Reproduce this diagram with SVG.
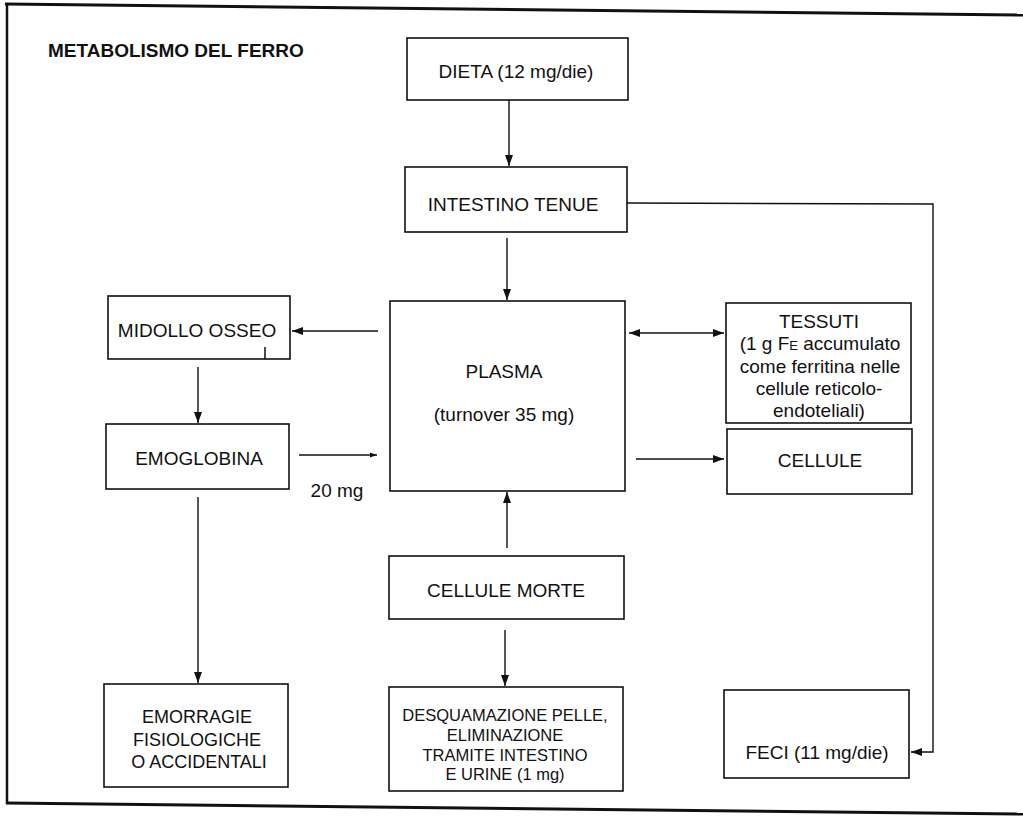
<svg xmlns="http://www.w3.org/2000/svg" width="1023" height="817" viewBox="0 0 1023 817">
<defs>
<marker id="ah" markerUnits="userSpaceOnUse" markerWidth="12" markerHeight="10" refX="11" refY="5" orient="auto-start-reverse">
<path d="M0,1 L11,5 L0,9 Z" fill="#111"/>
</marker>
<marker id="ahs" markerUnits="userSpaceOnUse" markerWidth="8" markerHeight="6" refX="7" refY="3" orient="auto">
<path d="M0,0.5 L7,3 L0,5.5 Z" fill="#111"/>
</marker>
</defs>
<style>
.box{fill:#fff;stroke:#111;stroke-width:1.6}
.t{font-family:"Liberation Sans",Arial,sans-serif;font-size:19px;fill:#111;text-anchor:middle}
.s{font-size:16.5px}
.m{font-size:18px}
.title{font-family:"Liberation Sans",Arial,sans-serif;font-size:19px;font-weight:bold;fill:#111}
.c{fill:none;stroke:#111;stroke-width:1.4}
.frame{fill:none;stroke:#111}
</style>
<rect width="1023" height="817" fill="#fff"/>
<g id="frame">
<line class="frame" x1="5" y1="4" x2="1023" y2="15" stroke-width="3"/>
<line class="frame" x1="7" y1="4" x2="7" y2="804" stroke-width="2.5"/>
<line class="frame" x1="6" y1="803" x2="1023" y2="814" stroke-width="3"/>
</g>
<text class="title" x="48" y="57">METABOLISMO DEL FERRO</text>
<g id="dieta"><rect class="box" x="407" y="38" width="221" height="62"/><text class="t" x="516" y="78">DIETA (12 mg/die)</text></g>
<g id="intestino"><rect class="box" x="405" y="167" width="222" height="65"/><text class="t" x="513" y="211">INTESTINO TENUE</text></g>
<g id="plasma"><rect class="box" x="390" y="301" width="235" height="190"/><text class="t" x="504" y="378">PLASMA</text><text class="t" x="504" y="421">(turnover 35 mg)</text></g>
<g id="midollo"><rect class="box" x="108" y="296" width="182" height="63"/><text class="t" x="197" y="337">MIDOLLO OSSEO</text><line x1="265" y1="347" x2="265" y2="359" stroke="#111" stroke-width="1.5"/></g>
<g id="emoglobina"><rect class="box" x="106" y="424" width="183" height="65"/><text class="t" x="199" y="465">EMOGLOBINA</text></g>
<g id="tessuti"><rect class="box" x="726" y="303" width="185" height="120"/>
<text class="t" x="819" y="328">TESSUTI</text>
<text class="t" x="820" y="350">(1 g F<tspan font-size="13">E</tspan> accumulato</text>
<text class="t" x="820" y="373">come ferritina nelle</text>
<text class="t" x="819" y="395">cellule reticolo-</text>
<text class="t" x="819" y="417">endoteliali)</text></g>
<g id="cellule"><rect class="box" x="727" y="429" width="185" height="65"/><text class="t" x="820" y="467">CELLULE</text></g>
<g id="cellulemorte"><rect class="box" x="389" y="556" width="235" height="63"/><text class="t" x="506" y="597">CELLULE MORTE</text></g>
<g id="desquamazione"><rect class="box" x="389" y="687" width="234" height="104"/>
<text class="t s" x="505" y="721">DESQUAMAZIONE PELLE,</text>
<text class="t s" x="505" y="741">ELIMINAZIONE</text>
<text class="t s" x="505" y="761">TRAMITE INTESTINO</text>
<text class="t s" x="505" y="780">E URINE (1 mg)</text></g>
<g id="emorragie"><rect class="box" x="104" y="684" width="184" height="103"/>
<text class="t m" x="197" y="723">EMORRAGIE</text>
<text class="t m" x="197" y="746">FISIOLOGICHE</text>
<text class="t m" x="199" y="768">O ACCIDENTALI</text></g>
<g id="feci"><rect class="box" x="724" y="690" width="185" height="88"/><text class="t" x="817" y="759">FECI (11 mg/die)</text></g>
<text class="t" x="337" y="497">20 mg</text>
<g id="connectors">
<line class="c" x1="509" y1="100" x2="509" y2="166" marker-end="url(#ah)"/>
<line class="c" x1="507" y1="238" x2="507" y2="300" marker-end="url(#ah)"/>
<line class="c" x1="378" y1="331" x2="292" y2="331" stroke-width="2" marker-end="url(#ah)"/>
<line class="c" x1="198" y1="367" x2="198" y2="423" marker-end="url(#ah)"/>
<line class="c" x1="299" y1="455" x2="377" y2="455" marker-end="url(#ahs)"/>
<line class="c" x1="198" y1="497" x2="198" y2="683" marker-end="url(#ah)"/>
<line class="c" x1="629" y1="333" x2="724" y2="333" stroke-width="2" marker-start="url(#ah)" marker-end="url(#ah)"/>
<line class="c" x1="636" y1="459" x2="724" y2="459" stroke-width="2" marker-end="url(#ah)"/>
<line class="c" x1="507" y1="548" x2="507" y2="492" marker-end="url(#ah)"/>
<line class="c" x1="505" y1="630" x2="505" y2="686" marker-end="url(#ah)"/>
<path class="c" d="M627,203 L933,204 L933,752 L911,752" marker-end="url(#ah)"/>
</g>
</svg>
